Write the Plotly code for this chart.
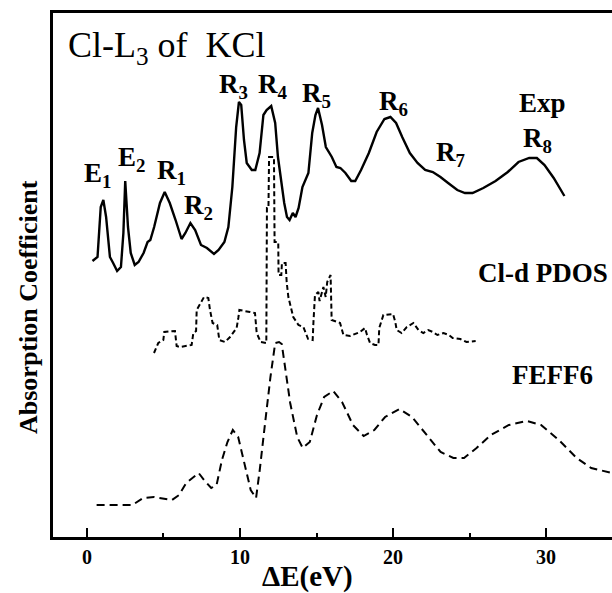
import plotly.graph_objects as go

# ---- data (energy in eV, intensity in arbitrary units) ----
exp_e = [0.36, 0.69, 0.9, 1.07, 1.25, 1.5, 1.71, 1.97, 2.22, 2.38, 2.5, 2.68, 2.86, 3.12, 3.37, 3.7,
         3.96, 4.14, 4.39, 4.77, 5.08, 5.41, 5.79, 6.18, 6.43, 6.76, 7.07, 7.45, 7.84, 8.3, 8.6, 8.98,
         9.24, 9.5, 9.75, 9.93, 10.08, 10.26, 10.44, 10.77, 11.0, 11.28, 11.53, 11.74, 12.04, 12.3,
         12.48, 12.68, 12.89, 13.07, 13.24, 13.45, 13.63, 13.83, 14.08, 14.47, 14.72, 14.93, 15.1,
         15.36, 15.61, 16.0, 16.3, 16.56, 16.89, 17.27, 17.53, 17.91, 18.42, 18.93, 19.44, 19.83,
         20.2, 20.6, 21.1, 21.6, 22.1, 22.6, 23.1, 23.6, 24.2, 24.7, 25.2, 25.9, 26.7, 27.5, 28.2,
         28.9, 29.4, 29.9, 30.5, 31.2]
exp_y = [276, 280, 330, 337, 320, 280, 274, 266, 270, 304, 356, 310, 284, 272, 275, 284,
         295, 297, 310, 334, 345, 334, 317, 298, 304, 314, 307, 292, 289, 283, 287, 295,
         310, 350, 410, 435, 432, 397, 374, 367, 367, 384, 422, 427, 431, 414,
         380, 357, 334, 320, 317, 324, 320, 329, 350, 364, 404, 422, 429,
         412, 390, 380, 370, 369, 364, 356, 356, 367, 384, 405, 418, 420,
         414, 400, 384, 374, 367, 365, 360, 354, 347, 344, 344, 349, 356, 365, 375,
         379, 379, 372, 359, 341]

pdos_e = [4.38, 4.66, 4.99, 5.05, 5.75, 5.86, 6.08, 6.84, 6.95, 7.13, 7.17, 7.5, 7.65, 7.93, 8.04,
          8.21, 8.51, 8.65, 9.02, 9.35, 9.78, 9.89, 9.96, 10.65, 10.98, 11.09, 11.35, 11.72, 11.76,
          11.86, 11.9, 12.22, 12.26, 12.5, 12.52, 12.7, 12.74, 12.98, 13.05, 13.16, 13.48, 13.82,
          14.14, 14.45, 14.75, 14.8, 14.9, 15.12, 15.2, 15.45, 15.6, 15.7, 15.92, 15.99, 16.54,
          16.76, 17.19, 17.84, 18.17, 18.3, 18.5, 18.82, 19.05, 19.1, 19.37, 20.0, 20.15, 20.24,
          20.56, 20.9, 21.33, 21.66, 21.98, 22.3, 22.6, 22.9, 23.3, 23.65, 23.9, 24.4, 24.8, 25.4]
pdos_y = [184, 194, 197, 205, 206, 191, 190, 192, 204, 206, 227, 235, 240, 239, 227,
          214, 212, 197, 195, 200, 209, 219, 227, 225, 224, 204, 195, 194, 329,
          329, 380, 380, 295, 295, 262, 262, 274, 274, 255, 240, 220, 212,
          210, 198, 197, 215, 242, 245, 236, 250, 240, 255, 262, 217, 214,
          202, 201, 205, 209, 202, 194, 192, 192, 209, 222, 223, 215, 207,
          204, 210, 214, 207, 204, 207, 205, 202, 204, 202, 199, 198, 195, 196]

feff_e = [0.63, 2.97, 3.67, 4.38, 5.55, 6.02, 6.48, 7.3, 7.65, 8.12, 8.47, 8.82, 9.18, 9.53, 9.88,
          10.23, 10.7, 11.05, 11.29, 11.64, 11.99, 12.3, 12.55, 12.73, 12.94, 13.28, 13.74, 14.1,
          14.56, 15.03, 15.5, 16.09, 16.67, 17.38, 18.08, 18.78, 19.48, 20.42, 21.24, 22.18, 23.11,
          23.94, 24.64, 25.46, 26.4, 27.57, 28.74, 29.67, 30.84, 32.0, 32.95, 34.3]
feff_y = [32, 32, 39, 40, 37, 42, 54, 64, 57, 49, 52, 77, 95, 107, 100,
          77, 47, 39, 67, 114, 160, 194, 195, 193, 170, 134, 100, 89,
          95, 122, 140, 146, 135, 112, 101, 107, 120, 128, 120, 102, 85,
          79, 79, 89, 102, 112, 116, 112, 97, 79, 69, 64]

x_ticks = [0, 10, 20, 30]

SERIF = "Liberation Serif"

fig = go.Figure()
fig.add_trace(go.Scatter(x=exp_e, y=exp_y, mode="lines",
                         line=dict(color="black", width=2.4), showlegend=False))
fig.add_trace(go.Scatter(x=pdos_e, y=pdos_y, mode="lines",
                         line=dict(color="black", width=2, dash="5px,3px"), showlegend=False))
fig.add_trace(go.Scatter(x=feff_e, y=feff_y, mode="lines",
                         line=dict(color="black", width=2, dash="8px,5px"), showlegend=False))

labels = [
    ("E<sub>1</sub>", 0.69, 362), ("E<sub>2</sub>", 2.91, 378), ("R<sub>1</sub>", 5.54, 365),
    ("R<sub>2</sub>", 7.32, 330), ("R<sub>3</sub>", 9.57, 451), ("R<sub>4</sub>", 12.16, 451),
    ("R<sub>5</sub>", 15.03, 442), ("R<sub>6</sub>", 20.03, 434), ("R<sub>7</sub>", 23.78, 383),
    ("Exp", 29.77, 434), ("R<sub>8</sub>", 29.47, 397), ("Cl-d PDOS", 29.77, 264),
    ("FEFF6", 30.39, 162),
]
anns = []
for t, x, y in labels:
    anns.append(dict(text="<b>" + t + "</b>", x=x, y=y, xref="x", yref="y", showarrow=False,
                     font=dict(family=SERIF, size=27, color="black")))
anns.append(dict(text="Cl-L<sub>3</sub> of  KCl", x=-1.4, y=490, xref="x", yref="y",
                 xanchor="left", showarrow=False,
                 font=dict(family=SERIF, size=36, color="black")))
anns.append(dict(text="<b>ΔE(eV)</b>", x=(307 - 53) / 559, y=-0.076, xref="paper", yref="paper",
                 xanchor="center", yanchor="middle", showarrow=False,
                 font=dict(family=SERIF, size=29, color="black")))
anns.append(dict(text="<b>Absorption Coefficient</b>", x=-0.0447, y=(537 - 307) / 524,
                 xref="paper", yref="paper", textangle=-90, showarrow=False,
                 xanchor="center", yanchor="middle",
                 font=dict(family=SERIF, size=26, color="black")))

fig.update_layout(
    width=612, height=593,
    margin=dict(l=53, r=0, t=13, b=56),
    paper_bgcolor="white", plot_bgcolor="white",
    annotations=anns,
    xaxis=dict(range=[-2.22, 34.31], tickvals=x_ticks, ticktext=["<b>%d</b>" % v for v in x_ticks],
               ticks="inside", ticklen=9, tickwidth=2, tickcolor="black",
               minor=dict(tickvals=[5, 15, 25], ticks="inside", ticklen=4, tickwidth=2,
                          tickcolor="black"),
               showline=True, linecolor="black", linewidth=2.5, mirror=True,
               showgrid=False, zeroline=False,
               tickfont=dict(family=SERIF, size=20, color="black")),
    yaxis=dict(range=[0, 524], showticklabels=False, ticks="", showline=True,
               linecolor="black", linewidth=2.5, mirror=False, showgrid=False, zeroline=False),
)

fig.write_html("out.html", config={"displayModeBar": False},
               post_script="document.body.style.margin='0';document.body.style.overflow='hidden';")
